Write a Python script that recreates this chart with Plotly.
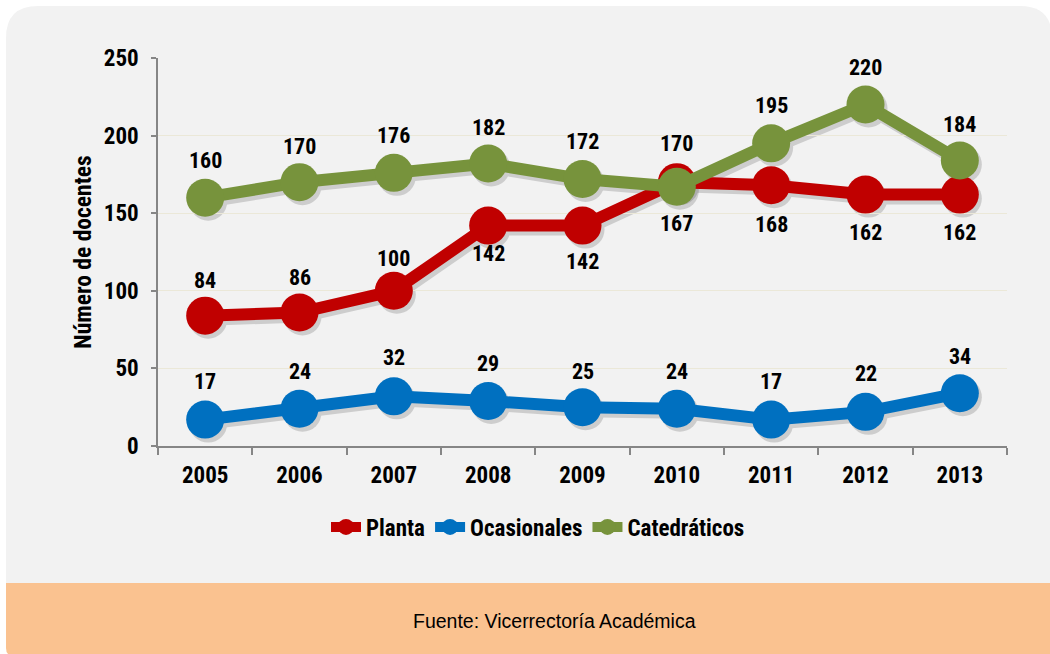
import plotly.graph_objects as go

# ---------------- data ----------------
years = ["2005", "2006", "2007", "2008", "2009", "2010", "2011", "2012", "2013"]
planta = [84, 86, 100, 142, 142, 170, 168, 162, 162]
ocasionales = [17, 24, 32, 29, 25, 24, 17, 22, 34]
catedraticos = [160, 170, 176, 182, 172, 167, 195, 220, 184]
series_names = ["Planta", "Ocasionales", "Catedráticos"]
y_title = "Número de docentes"
source_text = "Fuente: Vicerrectoría Académica"

# ---------------- style ----------------
colors = ["#c00000", "#0070c0", "#77933c"]
# vertical pixel offset of each data label centre from its point (negative = above)
label_dy = [
    [-35, -35, -32, 28, 36, -39, 39, 38, 38],
    [-38, -37, -39, -37, -36, -37, -38, -38, -37],
    [-37, -36, -37, -36, -38, 37, -38, -37, -36],
]
FONT = "Liberation Sans Narrow, Arial Narrow, Roboto Condensed, Arial, sans-serif"
FONT_REG = "Arial, Liberation Sans, sans-serif"

W_PX, H_PX = 1050, 654
L, T = 158, 58
SHX, SHY = 3, 4           # shadow offset in px
PW, PH = 849 + SHX, 388 + SHY
R = W_PX - L - PW
B = H_PX - T - PH


def px(x):
    return (x - L) / PW


def py(y):
    return (T + PH - y) / PH


fig = go.Figure()

all_series = [planta, ocasionales, catedraticos]

# shadow traces (drawn on the hidden, slightly shifted subplot)
for vals in all_series:
    fig.add_trace(go.Scatter(
        x=years, y=vals, mode="lines+markers",
        line=dict(color="#000000", width=12),
        marker=dict(size=38, color="#000000"),
        opacity=0.15, showlegend=False, hoverinfo="skip",
        xaxis="x", yaxis="y",
    ))

# main traces
for name, vals, col in zip(series_names, all_series, colors):
    fig.add_trace(go.Scatter(
        x=years, y=vals, mode="lines+markers", name=name,
        line=dict(color=col, width=12),
        marker=dict(size=38, color=col),
        xaxis="x2", yaxis="y2",
    ))

# data labels (category axis -> annotation x is the category index)
annotations = []
for vals, dys in zip(all_series, label_dy):
    for i, (v, dy) in enumerate(zip(vals, dys)):
        annotations.append(dict(
            x=i, y=v, xref="x2", yref="y2", text=str(v), showarrow=False,
            yshift=-dy, xanchor="center", yanchor="middle",
            font=dict(family=FONT, size=22, color="#000000", weight="bold"),
        ))

annotations.append(dict(
    x=px(554), y=py(621), xref="paper", yref="paper", text=source_text,
    showarrow=False, xanchor="center", yanchor="middle",
    font=dict(family=FONT_REG, size=19.5, color="#000000"),
))

gray_path = (
    f"M {px(6)},{py(583)} L {px(6)},{py(38)} Q {px(6)},{py(6)} {px(38)},{py(6)} "
    f"L {px(1020)},{py(6)} Q {px(1052)},{py(6)} {px(1052)},{py(38)} "
    f"L {px(1052)},{py(583)} Z"
)
orange_path = (
    f"M {px(6)},{py(583)} L {px(1052)},{py(583)} L {px(1052)},{py(656)} "
    f"L {px(14)},{py(656)} Q {px(6)},{py(656)} {px(6)},{py(648)} Z"
)

shapes = [
    dict(type="path", path=gray_path, xref="paper", yref="paper",
         fillcolor="#f2f2f2", line=dict(width=0), layer="below"),
    dict(type="path", path=orange_path, xref="paper", yref="paper",
         fillcolor="#fac290", line=dict(width=0), layer="below"),
]

tickfont = dict(family=FONT, size=23, color="#000000", weight="bold")

fig.update_layout(
    width=W_PX, height=H_PX,
    margin=dict(l=L, r=R, t=T, b=B, pad=0),
    paper_bgcolor="#ffffff", plot_bgcolor="rgba(0,0,0,0)",
    shapes=shapes, annotations=annotations,
    showlegend=True,
    legend=dict(
        orientation="h", x=px(538), y=py(527), xanchor="center", yanchor="middle",
        font=dict(family=FONT, size=23, color="#000000", weight="bold"),
        bgcolor="rgba(0,0,0,0)", itemsizing="trace", tracegroupgap=0,
        itemwidth=30,
    ),
    # shadow subplot (hidden)
    xaxis=dict(domain=[SHX / PW, 1], type="category", range=[-0.5, 8.5],
               visible=False, fixedrange=True),
    yaxis=dict(domain=[0, 1 - SHY / PH], range=[0, 250], visible=False,
               fixedrange=True),
    # main subplot
    xaxis2=dict(domain=[0, 1 - SHX / PW], type="category", range=[-0.5, 8.5],
                anchor="y2", showline=True, linecolor="#868686", linewidth=1.5,
                ticks="outside", tickson="boundaries", ticklen=7,
                tickcolor="#868686", tickwidth=1.5, ticklabelstandoff=8,
                tickfont=tickfont, showgrid=False, zeroline=False,
                fixedrange=True),
    yaxis2=dict(domain=[SHY / PH, 1], range=[0, 250], dtick=50, anchor="x2",
                showline=True, linecolor="#868686", linewidth=1.5,
                ticks="outside", ticklen=5, tickcolor="#868686", tickwidth=1.5,
                ticklabelstandoff=8,
                tickfont=tickfont, showgrid=True, gridcolor="#ebe8d8",
                gridwidth=1, zeroline=False,
                title=dict(text=y_title, standoff=6,
                           font=dict(family=FONT, size=23.5, color="#000000",
                                     weight="bold")),
                fixedrange=True),
)

fig.write_html("out.html", config={"displayModeBar": False},
               post_script="document.body.style.margin='0';")
